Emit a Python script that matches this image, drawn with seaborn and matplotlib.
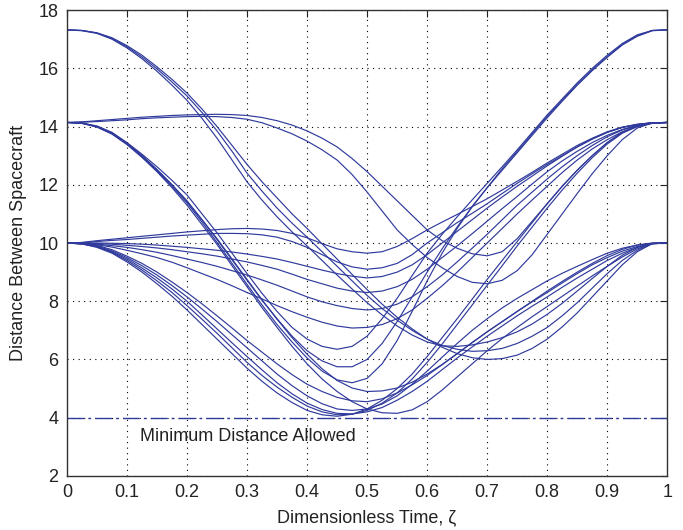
import matplotlib
matplotlib.use("Agg")
import matplotlib.pyplot as plt
import seaborn as sns
import pandas as pd

zeta = [i * 0.025 for i in range(41)]

# 17.32 start
A1 = [17.32,17.30,17.22,17.05,16.78,16.45,16.05,15.62,15.15,14.6,14.0,13.35,12.7,12.1,11.55,11.0,10.5,9.97,9.45,8.92,8.4,7.9,7.45,7.05,6.7,6.42,6.2,6.06,6.0,6.03,6.15,6.38,6.7,7.12,7.6,8.15,8.7,9.25,9.7,9.98,10.0]
A2 = [17.32,17.30,17.21,17.02,16.74,16.39,15.98,15.53,15.05,14.48,13.85,13.15,12.4,11.78,11.2,10.68,10.2,9.7,9.2,8.7,8.2,7.75,7.35,7.0,6.7,6.48,6.35,6.28,6.3,6.38,6.55,6.8,7.1,7.5,7.95,8.45,8.95,9.4,9.75,9.98,10.0]
A3 = [17.32,17.29,17.2,17.0,16.7,16.33,15.9,15.42,14.9,14.28,13.6,12.85,12.1,11.47,10.9,10.38,9.9,9.4,8.9,8.42,7.95,7.53,7.15,6.84,6.6,6.47,6.45,6.5,6.6,6.75,6.95,7.22,7.55,7.93,8.35,8.78,9.2,9.58,9.85,9.99,10.0]
# 14.14 start, hump
H1 = [14.14,14.16,14.2,14.24,14.28,14.32,14.35,14.38,14.4,14.41,14.42,14.41,14.38,14.31,14.2,14.05,13.85,13.6,13.3,12.9,12.45,11.95,11.45,10.95,10.45,10.08,9.82,9.63,9.56,9.7,10.15,10.75,11.35,11.95,12.5,13.0,13.45,13.8,14.03,14.13,14.14]
H2 = [14.14,14.15,14.17,14.2,14.23,14.27,14.3,14.32,14.34,14.35,14.34,14.31,14.25,14.13,13.95,13.75,13.5,13.2,12.85,12.35,11.75,11.1,10.45,9.95,9.5,9.15,8.85,8.65,8.6,8.72,9.05,9.6,10.3,11.0,11.7,12.38,13.0,13.55,13.95,14.12,14.14]
# 14.14 start, steep
B1 = [14.14,14.12,14.02,13.8,13.45,13.05,12.62,12.15,11.65,11.0,10.35,9.65,8.95,8.27,7.65,7.1,6.7,6.45,6.35,6.45,6.8,7.4,8.1,8.88,9.65,10.3,10.9,11.48,12.05,12.62,13.2,13.8,14.4,14.95,15.5,16.0,16.45,16.85,17.15,17.3,17.32]
B2 = [14.14,14.12,14.0,13.78,13.42,13.0,12.52,12.0,11.45,10.8,10.12,9.42,8.72,8.03,7.4,6.8,6.3,5.95,5.75,5.75,6.0,6.55,7.3,8.15,9.0,9.8,10.55,11.25,11.9,12.55,13.15,13.75,14.35,14.9,15.45,15.95,16.4,16.82,17.12,17.3,17.32]
B3 = [14.14,14.11,13.99,13.76,13.4,12.97,12.48,11.95,11.38,10.72,10.02,9.3,8.58,7.87,7.2,6.6,6.05,5.6,5.3,5.2,5.35,5.85,6.65,7.65,8.7,9.65,10.5,11.25,11.9,12.5,13.1,13.7,14.3,14.87,15.42,15.92,16.38,16.8,17.1,17.29,17.32]
B4 = [14.14,14.11,13.98,13.74,13.38,12.94,12.45,11.9,11.3,10.63,9.95,9.22,8.5,7.78,7.1,6.45,5.85,5.33,4.9,4.55,4.3,4.17,4.15,4.27,4.55,4.95,5.4,5.85,6.3,6.72,7.1,7.47,7.82,8.17,8.52,8.87,9.2,9.52,9.8,9.97,10.0]
B5 = [14.14,14.12,14.0,13.77,13.42,13.0,12.52,12.0,11.42,10.8,10.15,9.45,8.75,8.05,7.38,6.75,6.18,5.68,5.28,5.02,4.9,4.92,5.02,5.22,5.5,5.83,6.2,6.58,6.95,7.3,7.65,8.0,8.35,8.68,9.0,9.3,9.57,9.78,9.93,10.0,10.0]
# 10 start, flat / hump
C1 = [10,10.02,10.08,10.13,10.18,10.23,10.28,10.33,10.38,10.42,10.46,10.49,10.5,10.48,10.43,10.33,10.18,9.98,9.8,9.7,9.65,9.7,9.88,10.15,10.45,10.72,10.98,11.25,11.52,11.82,12.12,12.43,12.75,13.05,13.35,13.6,13.82,13.98,14.08,14.13,14.14]
C2 = [10,10.01,10.05,10.09,10.12,10.16,10.2,10.24,10.27,10.3,10.33,10.33,10.32,10.28,10.2,10.05,9.85,9.6,9.35,9.18,9.1,9.15,9.3,9.6,10.0,10.35,10.7,11.02,11.35,11.7,12.05,12.38,12.7,13.0,13.3,13.57,13.8,13.97,14.07,14.13,14.14]
C3 = [10,10.0,10.0,9.99,9.98,9.96,9.93,9.89,9.85,9.8,9.75,9.69,9.62,9.54,9.45,9.33,9.2,9.07,8.95,8.86,8.8,8.85,9.0,9.25,9.6,10.0,10.4,10.8,11.2,11.58,11.95,12.3,12.65,12.98,13.3,13.57,13.8,13.97,14.07,14.13,14.14]
C4 = [10,10.0,9.98,9.96,9.92,9.88,9.83,9.77,9.7,9.63,9.55,9.45,9.35,9.23,9.1,8.93,8.75,8.6,8.45,8.35,8.3,8.35,8.5,8.75,9.1,9.5,9.9,10.32,10.75,11.18,11.6,12.03,12.45,12.82,13.15,13.45,13.7,13.9,14.05,14.12,14.14]
C5 = [10,9.99,9.96,9.91,9.85,9.77,9.68,9.57,9.45,9.33,9.2,9.05,8.9,8.73,8.55,8.35,8.15,7.98,7.85,7.75,7.7,7.75,7.9,8.15,8.5,8.9,9.35,9.82,10.3,10.8,11.3,11.75,12.2,12.62,13.0,13.35,13.65,13.88,14.03,14.12,14.14]
C6 = [10,9.98,9.94,9.86,9.75,9.63,9.5,9.34,9.15,8.95,8.75,8.53,8.3,8.08,7.85,7.64,7.45,7.28,7.15,7.08,7.1,7.2,7.4,7.7,8.1,8.53,9.0,9.5,10.0,10.5,11.0,11.48,11.95,12.42,12.85,13.23,13.55,13.82,14.0,14.11,14.14]
# 10 start, steep
D1 = [10,9.97,9.85,9.65,9.35,9.0,8.6,8.17,7.7,7.2,6.7,6.2,5.7,5.25,4.85,4.52,4.25,4.1,4.05,4.12,4.3,4.6,5.0,5.5,6.1,6.75,7.4,8.07,8.75,9.4,10.05,10.7,11.35,11.95,12.5,13.0,13.45,13.8,14.02,14.12,14.14]
D2 = [10,9.97,9.87,9.68,9.4,9.07,8.7,8.3,7.85,7.38,6.9,6.4,5.9,5.45,5.05,4.7,4.4,4.2,4.1,4.12,4.25,4.5,4.85,5.33,5.9,6.53,7.2,7.87,8.55,9.22,9.9,10.55,11.2,11.82,12.4,12.93,13.4,13.77,14.0,14.12,14.14]
D3 = [10,9.97,9.88,9.7,9.45,9.14,8.8,8.42,8.0,7.53,7.05,6.57,6.1,5.64,5.2,4.82,4.5,4.28,4.15,4.13,4.2,4.35,4.6,4.9,5.25,5.65,6.05,6.43,6.8,7.15,7.5,7.83,8.15,8.48,8.8,9.1,9.4,9.65,9.85,9.98,10.0]
D4 = [10,9.97,9.9,9.73,9.5,9.22,8.9,8.54,8.15,7.73,7.3,6.85,6.4,5.95,5.5,5.1,4.75,4.48,4.3,4.25,4.3,4.47,4.75,5.15,5.6,6.08,6.55,7.0,7.4,7.77,8.1,8.4,8.7,8.96,9.2,9.43,9.65,9.82,9.93,9.99,10.0]
D5 = [10,9.98,9.92,9.77,9.55,9.3,9.0,8.66,8.3,7.91,7.5,7.08,6.65,6.25,5.85,5.48,5.15,4.9,4.7,4.58,4.55,4.65,4.85,5.13,5.45,5.82,6.2,6.58,6.95,7.3,7.65,7.98,8.3,8.63,8.95,9.25,9.5,9.72,9.88,9.98,10.0]

curves = {"A1": A1, "A2": A2, "A3": A3, "H1": H1, "H2": H2,
          "B1": B1, "B2": B2, "B3": B3, "B4": B4, "B5": B5,
          "C1": C1, "C2": C2, "C3": C3, "C4": C4, "C5": C5, "C6": C6,
          "D1": D1, "D2": D2, "D3": D3, "D4": D4, "D5": D5}

min_x = [0.0, 1.0]
min_y = [4.0, 4.0]
min_label = "Minimum Distance Allowed"
xticks = [0, .1, .2, .3, .4, .5, .6, .7, .8, .9, 1]
xtick_labels = ["0", "0.1", "0.2", "0.3", "0.4", "0.5", "0.6", "0.7", "0.8", "0.9", "1"]
yticks = [2, 4, 6, 8, 10, 12, 14, 16, 18]

rows = []
for name, vals in curves.items():
    for x, y in zip(zeta, vals):
        rows.append({"zeta": x, "dist": y, "curve": name})
df = pd.DataFrame(rows)

sns.set_style("white")
plt.rcParams['font.family'] = ['Liberation Sans', 'DejaVu Sans']

fig = plt.figure(figsize=(6.83, 5.30), dpi=100)
ax = fig.add_axes([0.098, 0.102, 0.879, 0.879])

blue = "#2f3a9c"
sns.lineplot(data=df, x="zeta", y="dist", units="curve", estimator=None,
             color=blue, linewidth=0.85, ax=ax, legend=False)
sns.lineplot(x=min_x, y=min_y, color=blue, linewidth=1.0, ax=ax, legend=False)
ax.lines[-1].set_dashes([12, 3, 2, 3])

ax.text(0.122, 3.35, min_label, fontsize=13, va="center", ha="left", color="#222222")

ax.set_xlim(0, 1)
ax.set_ylim(2, 18)
ax.set_xticks(xticks)
ax.set_xticklabels(xtick_labels)
ax.set_yticks(yticks)
ax.grid(True, linestyle=(0, (1, 4)), color="black", linewidth=0.8)
ax.tick_params(direction="in", top=True, right=True, length=5, labelsize=13,
               width=0.8, pad=6, colors="#222222")
for s in ax.spines.values():
    s.set_color("#333333")
    s.set_linewidth(1.0)
ax.set_xlabel("Dimensionless Time, ζ", fontsize=13, labelpad=6, color="#222222")
ax.set_ylabel("Distance Between Spacecraft", fontsize=13, labelpad=8, color="#222222")

fig.savefig("out.png", dpi=100)
